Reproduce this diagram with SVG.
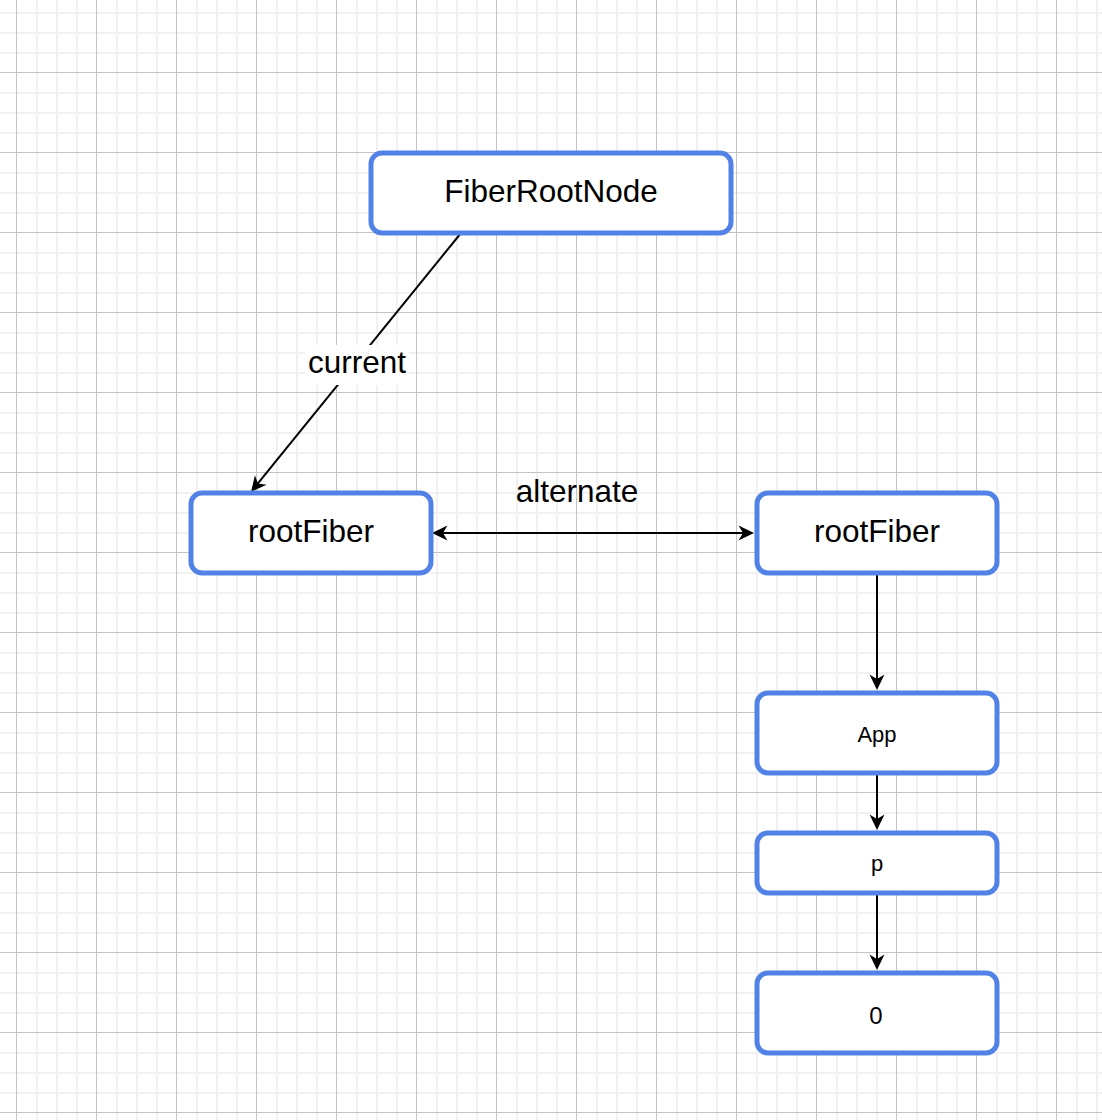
<svg xmlns="http://www.w3.org/2000/svg" width="1102" height="1120" viewBox="0 0 1102 1120">
  <style>
    .node rect { fill: #ffffff; stroke: #5282e6; stroke-width: 5; }
    .node text { font-family: "Liberation Sans", Arial, Helvetica, sans-serif; fill: #000000; text-anchor: middle; }
    .big { font-size: 31.5px; }
    .small { font-size: 22px; }
    .edge { fill: none; stroke: #000000; stroke-width: 2; }
    .label { font-family: "Liberation Sans", Arial, Helvetica, sans-serif; font-size: 31.5px; fill: #000000; text-anchor: middle; }
  </style>
  <defs>
    <pattern id="grid" patternUnits="userSpaceOnUse" x="16" y="72" width="80" height="80">
      <rect x="20" y="0" width="2" height="80" fill="#f1f1f1"/>
      <rect x="40" y="0" width="2" height="80" fill="#f1f1f1"/>
      <rect x="60" y="0" width="2" height="80" fill="#f1f1f1"/>
      <rect x="0" y="20" width="80" height="2" fill="#f1f1f1"/>
      <rect x="0" y="40" width="80" height="2" fill="#f1f1f1"/>
      <rect x="0" y="60" width="80" height="2" fill="#f1f1f1"/>
      <rect x="0" y="0" width="1" height="80" fill="#c4c4c4"/>
      <rect x="0" y="0" width="80" height="1" fill="#c4c4c4"/>
    </pattern>
    <marker id="arr" markerUnits="userSpaceOnUse" markerWidth="24" markerHeight="24" viewBox="-12 -12 24 24" refX="0" refY="0" orient="auto-start-reverse">
      <path d="M10,0 L-5.5,-7.5 L-1,0 L-5.5,7.5 Z" fill="#000000"/>
    </marker>
  </defs>
  <rect x="0" y="0" width="1102" height="1120" fill="#ffffff"/>
  <rect x="0" y="0" width="1102" height="1120" fill="url(#grid)"/>

  <g id="connectors">
    <line class="edge" x1="461" y1="233" x2="257.3" y2="484.2" marker-end="url(#arr)"/>
    <rect x="305" y="345" width="104" height="40" fill="#ffffff"/>
    <text class="label" x="357" y="373">current</text>
    <line class="edge" x1="442" y1="533" x2="744" y2="533" marker-start="url(#arr)" marker-end="url(#arr)"/>
    <text class="label" x="577" y="501.5">alternate</text>
    <line class="edge" x1="877" y1="573" x2="877" y2="680" marker-end="url(#arr)"/>
    <line class="edge" x1="877" y1="773" x2="877" y2="820" marker-end="url(#arr)"/>
    <line class="edge" x1="877" y1="893" x2="877" y2="960" marker-end="url(#arr)"/>
  </g>

  <g id="fiberRootNode" class="node">
    <rect x="371" y="153" width="360" height="80" rx="11"/>
    <text class="big" x="551" y="201.5">FiberRootNode</text>
  </g>
  <g id="rootFiberCurrent" class="node">
    <rect x="191" y="493" width="240" height="80" rx="11"/>
    <text class="big" x="311" y="541.5">rootFiber</text>
  </g>
  <g id="rootFiberAlternate" class="node">
    <rect x="757" y="493" width="240" height="80" rx="11"/>
    <text class="big" x="877" y="541.5">rootFiber</text>
  </g>
  <g id="app" class="node">
    <rect x="757" y="693" width="240" height="80" rx="11"/>
    <text class="small" x="877" y="741.5">App</text>
  </g>
  <g id="p" class="node">
    <rect x="757" y="833" width="240" height="60" rx="11"/>
    <text class="small" x="877" y="871">p</text>
  </g>
  <g id="zero" class="node">
    <rect x="757" y="973" width="240" height="80" rx="11"/>
    <text class="small" x="876" y="1024" style="font-size:24px">0</text>
  </g>
</svg>
